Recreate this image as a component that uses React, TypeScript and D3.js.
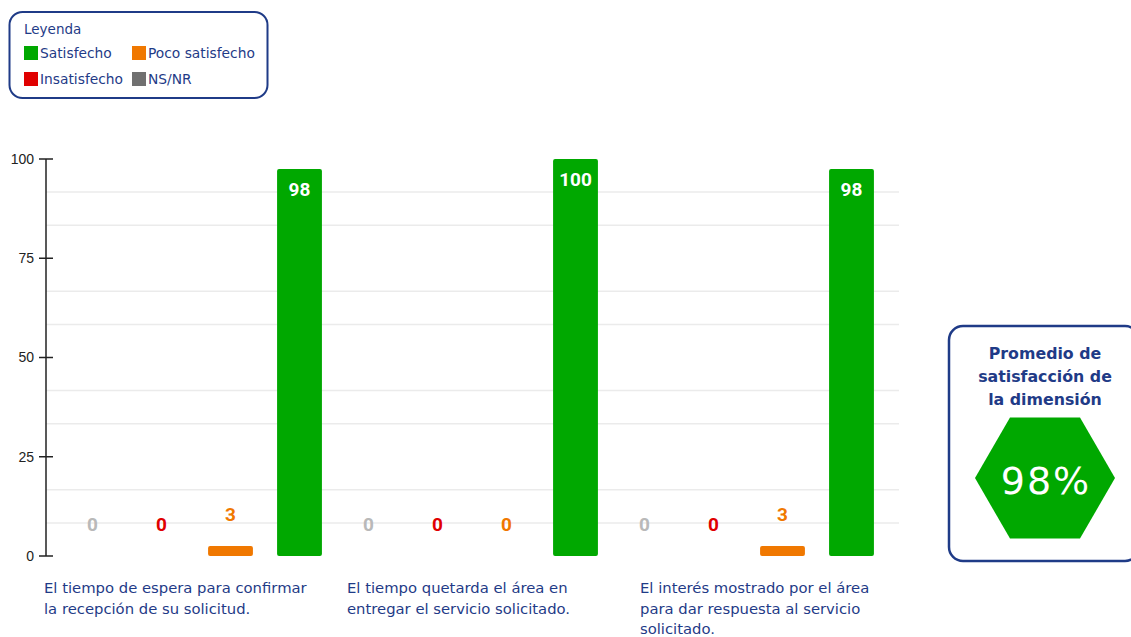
import React from "react";
import * as d3 from "d3";

const categories = [
  "El tiempo de espera para confirmar|la recepción de su solicitud.",
  "El tiempo quetarda el área en|entregar el servicio solicitado.",
  "El interés mostrado por el área|para dar respuesta al servicio|solicitado.",
];
const seriesNames = ["NS/NR", "Insatisfecho", "Poco satisfecho", "Satisfecho"];
const nsnr = [0, 0, 0];
const insatisfecho = [0, 0, 0];
const poco = [2.5, 0, 2.5];
const satisfecho = [97.5, 100, 97.5];
const yTicks = [0, 25, 50, 75, 100];
const promedio = "98%";

const barColors: Record<string, string> = {
  "NS/NR": "#707070",
  Insatisfecho: "#e00000",
  "Poco satisfecho": "#f07800",
  Satisfecho: "#00a800",
};
const labelColors: Record<string, string> = {
  "NS/NR": "#b9b9b9",
  Insatisfecho: "#e00000",
  "Poco satisfecho": "#f07800",
  Satisfecho: "#ffffff",
};
const NAVY = "#1f3b87";
const labelOffsets = [-14, 13, 30];
const catFont = "'DejaVu Sans', sans-serif";

export default function App() {
  const values: Record<string, number[]> = {
    "NS/NR": nsnr,
    Insatisfecho: insatisfecho,
    "Poco satisfecho": poco,
    Satisfecho: satisfecho,
  };
  const y = d3.scaleLinear().domain([0, 100]).range([556, 159]);
  const x0 = d3.scaleBand<number>().domain([0, 1, 2]).range([58, 886]);
  const x1 = d3
    .scaleBand<string>()
    .domain(seriesNames)
    .range([0, x0.bandwidth()])
    .paddingInner(0.35)
    .paddingOuter(0.175);
  const grid = d3.range(1, 12).filter((i) => i % 3 !== 0).map((i) => (i * 100) / 12);

  // hexagon
  const hx = 1045, hy = 478, hr = 70;
  const hex = d3.range(6).map((i) => {
    const a = (Math.PI / 3) * i;
    return [hx + hr * Math.cos(a), hy + hr * Math.sin(a)];
  });

  const legendItems = [
    { name: "Satisfecho", x: 24, y: 46 },
    { name: "Poco satisfecho", x: 132, y: 46 },
    { name: "Insatisfecho", x: 24, y: 72 },
    { name: "NS/NR", x: 132, y: 72 },
  ];

  return (
    <svg
      width={1131}
      height={637}
      style={{ position: "absolute", left: 0, top: 0, background: "#fff" }}
    >
      {/* legend */}
      <rect x={9.5} y={12} width={258} height={86} rx={13} fill="#fff" stroke={NAVY} strokeWidth={2} />
      <text x={24} y={34} fontFamily={catFont} fontSize={13.5} fill={NAVY}>
        Leyenda
      </text>
      {legendItems.map((d) => (
        <g key={d.name}>
          <rect x={d.x} y={d.y} width={14} height={14} fill={barColors[d.name]} />
          <text x={d.x + 16} y={d.y + 12} fontFamily={catFont} fontSize={13.8} fill={NAVY}>
            {d.name}
          </text>
        </g>
      ))}

      {/* gridlines */}
      {grid.map((g) => (
        <line key={g} x1={46} x2={899} y1={y(g)} y2={y(g)} stroke="#ebebeb" strokeWidth={1.5} />
      ))}

      {/* y axis */}
      <line x1={46} x2={46} y1={y(100)} y2={y(0)} stroke="#222" strokeWidth={1.5} />
      {yTicks.map((t) => (
        <g key={t}>
          <line x1={39} x2={53} y1={y(t)} y2={y(t)} stroke="#222" strokeWidth={1.5} />
          <text
            x={34}
            y={y(t)}
            dy="0.35em"
            textAnchor="end"
            fontFamily="'Liberation Sans', Arial, sans-serif"
            fontSize={14}
            fill="#222"
          >
            {t}
          </text>
        </g>
      ))}

      {/* bars */}
      {categories.map((c, ci) => (
        <g key={ci} transform={`translate(${x0(ci)},0)`}>
          {seriesNames.map((s) => {
            const v = values[s][ci];
            const bx = x1(s)!;
            const bw = x1.bandwidth();
            const top = y(v);
            const inside = s === "Satisfecho";
            return (
              <g key={s}>
                {v > 0 && (
                  <rect x={bx} y={top} width={bw} height={y(0) - top} rx={2} fill={barColors[s]} />
                )}
                <text
                  x={bx + bw / 2}
                  y={inside ? top + 27 : top - 25}
                  textAnchor="middle"
                  fontFamily="Roboto, sans-serif"
                  fontWeight="bold"
                  fontSize={19}
                  fill={labelColors[s]}
                >
                  {Math.round(v)}
                </text>
              </g>
            );
          })}
          {c.split("|").map((line, li) => (
            <text
              key={li}
              x={labelOffsets[ci]}
              y={593 + li * 20.5}
              fontFamily={catFont}
              fontSize={14.8}
              fill={NAVY}
            >
              {line}
            </text>
          ))}
        </g>
      ))}

      {/* promedio box */}
      <rect x={949} y={326} width={190} height={235} rx={14} fill="#fff" stroke={NAVY} strokeWidth={2.5} />
      {["Promedio de", "satisfacción de", "la dimensión"].map((t, i) => (
        <text
          key={i}
          x={1045}
          y={359 + i * 23}
          textAnchor="middle"
          fontFamily={catFont}
          fontWeight="bold"
          fontSize={15.8}
          fill={NAVY}
        >
          {t}
        </text>
      ))}
      <polygon points={hex.map((p) => p.join(",")).join(" ")} fill="#00a800" />
      <text
        x={hx + 1}
        y={hy + 3}
        dy="0.35em"
        textAnchor="middle"
        fontFamily={catFont}
        fontSize={38}
        letterSpacing={2}
        fill="#fff"
      >
        {promedio}
      </text>
    </svg>
  );
}
